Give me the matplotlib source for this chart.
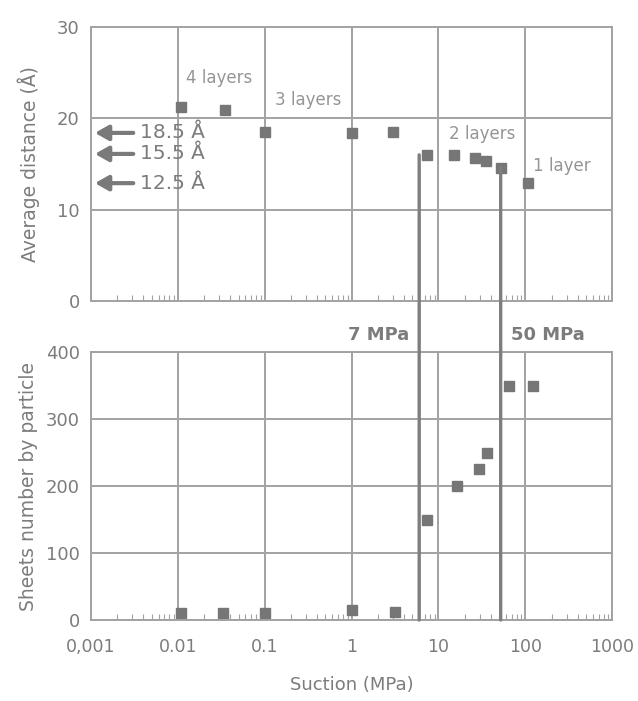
import numpy as np
import matplotlib.pyplot as plt
from matplotlib.patches import ConnectionPatch
from matplotlib.ticker import LogLocator, NullFormatter

plt.rcParams['font.family'] = ['DejaVu Sans']

# average interlayer distance vs suction
suction_d = [0.011, 0.035, 0.1, 1.0, 3.0, 7.4, 15, 26, 35, 53, 107]
dist = [21.2, 20.9, 18.5, 18.4, 18.5, 16.0, 16.0, 15.7, 15.3, 14.6, 12.9]

# sheets number by particle vs suction
suction_n = [0.011, 0.033, 0.1, 1.0, 3.2, 7.4, 16.5, 29, 36, 65, 123]
sheets = [10, 10, 10, 15, 12, 150, 200, 225, 250, 350, 350]

arrow_vals = [18.4, 16.1, 12.9]
arrow_text = ['18.5 Å', '15.5 Å', '12.5 Å']
layer_text = ['4 layers', '3 layers', '2 layers', '1 layer']
layer_pos = [(0.03, 24.4), (0.32, 22.0), (32, 18.3), (265, 14.8)]
limits = [6, 52]
limit_text = ['7 MPa', '50 MPa']
xticks = [0.001, 0.01, 0.1, 1, 10, 100, 1000]
xlabels = ['0,001', '0.01', '0.1', '1', '10', '100', '1000']

grey = '#a2a2a2'
txt = '#7c7c7c'
mk = '#767676'

fig = plt.figure(figsize=(6.38, 7.01), dpi=100)
ax1 = fig.add_axes([0.1426, 0.5706, 0.817, 0.391])
ax2 = fig.add_axes([0.1426, 0.1155, 0.817, 0.3823])

for ax in (ax1, ax2):
    ax.set_xscale('log')
    ax.set_xlim(0.001, 1000)
    ax.grid(True, which='major', color=grey, lw=1.4)
    ax.set_axisbelow(True)
    for s in ax.spines.values():
        s.set_color(grey)
        s.set_linewidth(1.4)
    ax.xaxis.set_major_locator(LogLocator(base=10, numticks=10))
    ax.xaxis.set_minor_locator(LogLocator(base=10, subs=np.arange(2, 10), numticks=10))
    ax.xaxis.set_minor_formatter(NullFormatter())
    ax.tick_params(axis='x', which='minor', direction='in', length=4, width=0.8, color=grey)
    ax.tick_params(axis='x', which='major', length=0)
    ax.tick_params(axis='y', length=0, labelsize=13, labelcolor=txt, pad=8)

ax1.set_ylim(0, 30)
ax1.set_yticks([0, 10, 20, 30])
ax1.tick_params(axis='x', labelbottom=False)
ax1.plot(suction_d, dist, 's', color=mk, ms=7, clip_on=False)
ax1.set_ylabel('Average distance (Å)', fontsize=13.5, color=txt, labelpad=12)

for v, t in zip(arrow_vals, arrow_text):
    ax1.annotate('', xy=(0.00103, v), xytext=(0.0033, v),
                 arrowprops=dict(arrowstyle='-|>,head_length=0.8,head_width=0.45',
                                 color='#7a7a7a', lw=3))
    ax1.text(0.0037, v, t, fontsize=14.5, color=txt, va='center', ha='left')

for t, (x, y) in zip(layer_text, layer_pos):
    ax1.text(x, y, t, fontsize=12, color='#959595', ha='center', va='center')

ax2.set_ylim(0, 400)
ax2.set_yticks([0, 100, 200, 300, 400])
ax2.plot(suction_n, sheets, 's', color=mk, ms=7, clip_on=False)
ax2.set_xticks(xticks)
ax2.set_xticklabels(xlabels)
ax2.tick_params(axis='x', which='major', labelsize=12.5, labelcolor=txt, pad=13)
ax2.set_ylabel('Sheets number by particle', fontsize=13.5, color=txt, labelpad=6)
ax2.set_xlabel('Suction (MPa)', fontsize=13, color=txt, labelpad=14)

# vertical limit lines running through both panels
tops = [16.0, 14.7]
for x, ytop in zip(limits, tops):
    con = ConnectionPatch(xyA=(x, ytop), coordsA=ax1.transData,
                          xyB=(x, 0), coordsB=ax2.transData,
                          color='#7e7e7e', lw=2.4)
    fig.add_artist(con)

ax2.text(limits[0] / 1.3, 425, limit_text[0], fontsize=13, fontweight='bold',
         color=txt, ha='right', va='center', clip_on=False)
ax2.text(limits[1] * 1.3, 425, limit_text[1], fontsize=13, fontweight='bold',
         color=txt, ha='left', va='center', clip_on=False)

fig.savefig('out.png', dpi=100)
